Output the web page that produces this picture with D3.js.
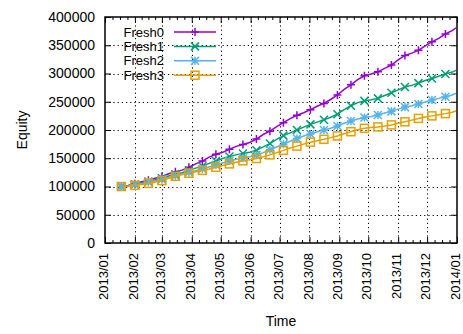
<!DOCTYPE html>
<html>
<head>
<meta charset="utf-8">
<script src="https://cdn.jsdelivr.net/npm/d3@7"></script>
<style>
  body { margin: 0; background: #fff; }
  text { font-family: "Liberation Sans", Arial, sans-serif; }
</style>
</head>
<body>
<script>
const dates = ["2013-01-18","2013-01-25","2013-02-01","2013-02-08","2013-02-15","2013-02-22",
  "2013-03-01","2013-03-08","2013-03-15","2013-03-22","2013-03-29","2013-04-05","2013-04-12",
  "2013-04-19","2013-04-26","2013-05-03","2013-05-10","2013-05-17","2013-05-24","2013-05-31",
  "2013-06-07","2013-06-14","2013-06-21","2013-06-28","2013-07-05","2013-07-12","2013-07-19",
  "2013-07-26","2013-08-02","2013-08-09","2013-08-16","2013-08-23","2013-08-30","2013-09-06",
  "2013-09-13","2013-09-20","2013-09-27","2013-10-04","2013-10-11","2013-10-18","2013-10-25",
  "2013-11-01","2013-11-08","2013-11-15","2013-11-22","2013-11-29","2013-12-06","2013-12-13",
  "2013-12-20","2013-12-27","2013-12-31"];

const fresh0 = [100000,102000,105000,108500,111000,114500,117500,122500,126000,129000,134000,
  140000,145000,152000,157000,160500,166000,171000,174500,178000,184000,192000,198000,206000,
  213000,220000,226000,230500,236000,242000,247000,254000,262000,272000,280000,289000,296000,
  299000,303000,309000,315000,324000,332000,336000,341000,349000,356000,362000,370000,376000,381000];
const fresh1 = [100000,101500,104000,106500,109000,112000,114500,118500,121500,124500,128500,
  132500,136000,141000,145000,149500,153000,156000,158500,160500,164000,170000,176000,183500,
  190000,195000,200000,205000,210000,214000,218000,222500,228000,236000,243000,248500,251500,
  253500,256000,261000,266000,271000,276000,279000,283000,287500,291000,295000,299000,302500,305500];
const fresh2 = [100000,101000,103000,105000,107500,110000,112500,115500,118500,121500,125000,
  128000,131000,134500,138000,141500,145000,148000,150000,152500,155500,160000,165000,170000,
  175000,180000,185000,189500,193000,197000,200000,203000,207000,212000,216000,219500,222000,
  224000,226500,230000,233000,237000,240500,243000,246000,249500,253000,256000,259000,262000,265000];
const fresh3 = [100000,100500,102000,103500,105500,108000,110500,114500,118000,121000,123500,
  126000,128500,131000,134000,137000,140000,143000,145500,147500,149500,152500,156000,160000,
  164000,168000,171500,175000,178500,181000,183500,186500,189500,193500,197000,200500,203000,
  204500,205500,207000,209000,212000,214500,217500,220500,223000,225000,227000,229000,231500,233500];

const seriesNames = ["Fresh0","Fresh1","Fresh2","Fresh3"];
const seriesValues = [fresh0, fresh1, fresh2, fresh3];
const colors = ["#9400d3","#009e73","#56b4e9","#e69f00"];
const markers = ["plus","cross","star","square"];
const yTicks = [0,50000,100000,150000,200000,250000,300000,350000,400000];

const W = 463, H = 334;
const pl = 105, pr = 457, pt = 17, pb = 243;

const parse = d3.timeParse("%Y-%m-%d");
const days = dates.map(parse);

const svg = d3.select("body").append("svg").attr("width", W).attr("height", H);

const x = d3.scaleTime().domain([new Date(2013,0,1), new Date(2014,0,1)]).range([pl, pr]);
const y = d3.scaleLinear().domain([0,400000]).range([pb, pt]);

const months = d3.timeMonth.range(new Date(2013,0,1), new Date(2014,0,2));
// minor ticks: 4 parts per month
const minor = [];
for (let i = 0; i < months.length - 1; i++) {
  const a = months[i].getTime(), b = months[i+1].getTime();
  for (let j = 1; j < 4; j++) minor.push(new Date(a + j * (b - a) / 4));
}

// grid
const grid = svg.append("g").attr("stroke", "#000").attr("stroke-width", 1)
  .attr("stroke-dasharray", "1.2,3");
grid.selectAll("line.gx").data(months.slice(1, -1)).enter().append("line")
  .attr("x1", d => Math.round(x(d)) + 0.5).attr("x2", d => Math.round(x(d)) + 0.5)
  .attr("y1", pt).attr("y2", pb);
grid.selectAll("line.gy").data(yTicks.slice(1, -1)).enter().append("line")
  .attr("x1", pl).attr("x2", pr)
  .attr("y1", d => Math.round(y(d)) + 0.5).attr("y2", d => Math.round(y(d)) + 0.5);

// axes
const fmt = d3.timeFormat("%Y/%m");
const xAxis = svg.append("g").attr("transform", `translate(0,${pb})`)
  .call(d3.axisBottom(x).tickValues(months).tickFormat(fmt).tickSizeInner(-6).tickSizeOuter(0));

svg.append("g").attr("transform", `translate(0,${pb})`)
  .call(d3.axisBottom(x).tickValues(minor).tickFormat("").tickSizeInner(-3).tickSizeOuter(0));
svg.append("g").attr("transform", `translate(0,${pt})`)
  .call(d3.axisTop(x).tickValues(months).tickFormat("").tickSizeInner(-6).tickSizeOuter(0));
svg.append("g").attr("transform", `translate(0,${pt})`)
  .call(d3.axisTop(x).tickValues(minor).tickFormat("").tickSizeInner(-3).tickSizeOuter(0));

const yAxis = svg.append("g").attr("transform", `translate(${pl},0)`)
  .call(d3.axisLeft(y).tickValues(yTicks).tickFormat(d3.format("d")).tickSizeInner(-6).tickSizeOuter(0).tickPadding(10));
svg.append("g").attr("transform", `translate(${pr},0)`)
  .call(d3.axisRight(y).tickValues(yTicks).tickFormat("").tickSizeInner(-6).tickSizeOuter(0));

svg.selectAll(".domain").remove();
svg.selectAll(".tick line").attr("stroke", "#000");
svg.selectAll(".tick text").attr("font-family", "Liberation Sans, Arial, sans-serif").attr("fill", "#000");
yAxis.selectAll("text").attr("font-size", 14);
xAxis.selectAll("text")
  .attr("font-size", 13)
  .attr("transform", "rotate(-90)")
  .attr("x", -10).attr("y", -2).attr("dy", "0.35em")
  .style("text-anchor", "end");

// border
svg.append("rect").attr("x", pl).attr("y", pt).attr("width", pr - pl).attr("height", pb - pt)
  .attr("fill", "none").attr("stroke", "#000").attr("stroke-width", 1.5);

// axis titles
svg.append("text").attr("x", (pl + pr) / 2).attr("y", 326).attr("text-anchor", "middle")
  .attr("font-size", 14).text("Time");
svg.append("text").attr("transform", `translate(27,${(pt + pb) / 2}) rotate(-90)`)
  .attr("text-anchor", "middle").attr("font-size", 14).text("Equity");

function marker(g, type, color) {
  const s = 4;
  if (type === "plus") {
    g.append("path").attr("d", `M${-s},0H${s}M0,${-s}V${s}`);
  } else if (type === "cross") {
    g.append("path").attr("d", `M${-s},${-s}L${s},${s}M${-s},${s}L${s},${-s}`);
  } else if (type === "star") {
    g.append("path").attr("d", `M${-s},0H${s}M0,${-s}V${s}M${-s},${-s}L${s},${s}M${-s},${s}L${s},${-s}`);
  } else {
    g.append("rect").attr("x", -s).attr("y", -s).attr("width", 2 * s).attr("height", 2 * s).attr("fill", "none");
  }
  g.attr("stroke", color).attr("stroke-width", 1.5).attr("fill", "none");
}

const line = d3.line().x((d, i) => x(days[i])).y(d => y(d));

seriesValues.forEach((vals, k) => {
  svg.append("path").datum(vals).attr("d", line)
    .attr("fill", "none").attr("stroke", colors[k]).attr("stroke-width", 1.5);
  vals.forEach((v, i) => {
    if (i % 2 === 0 && i < vals.length - 1) {
      const g = svg.append("g").attr("transform", `translate(${x(days[i])},${y(v)})`);
      marker(g, markers[k], colors[k]);
    }
  });
});

// legend
seriesNames.forEach((name, k) => {
  const ly = 32 + k * 14.4;
  svg.append("text").attr("x", 164).attr("y", ly).attr("dy", "0.35em").attr("text-anchor", "end")
    .attr("font-size", 13).text(name);
  svg.append("line").attr("x1", 174).attr("x2", 216).attr("y1", ly).attr("y2", ly)
    .attr("stroke", colors[k]).attr("stroke-width", 1.5);
  const g = svg.append("g").attr("transform", `translate(195,${ly})`);
  marker(g, markers[k], colors[k]);
});
</script>
</body>
</html>
